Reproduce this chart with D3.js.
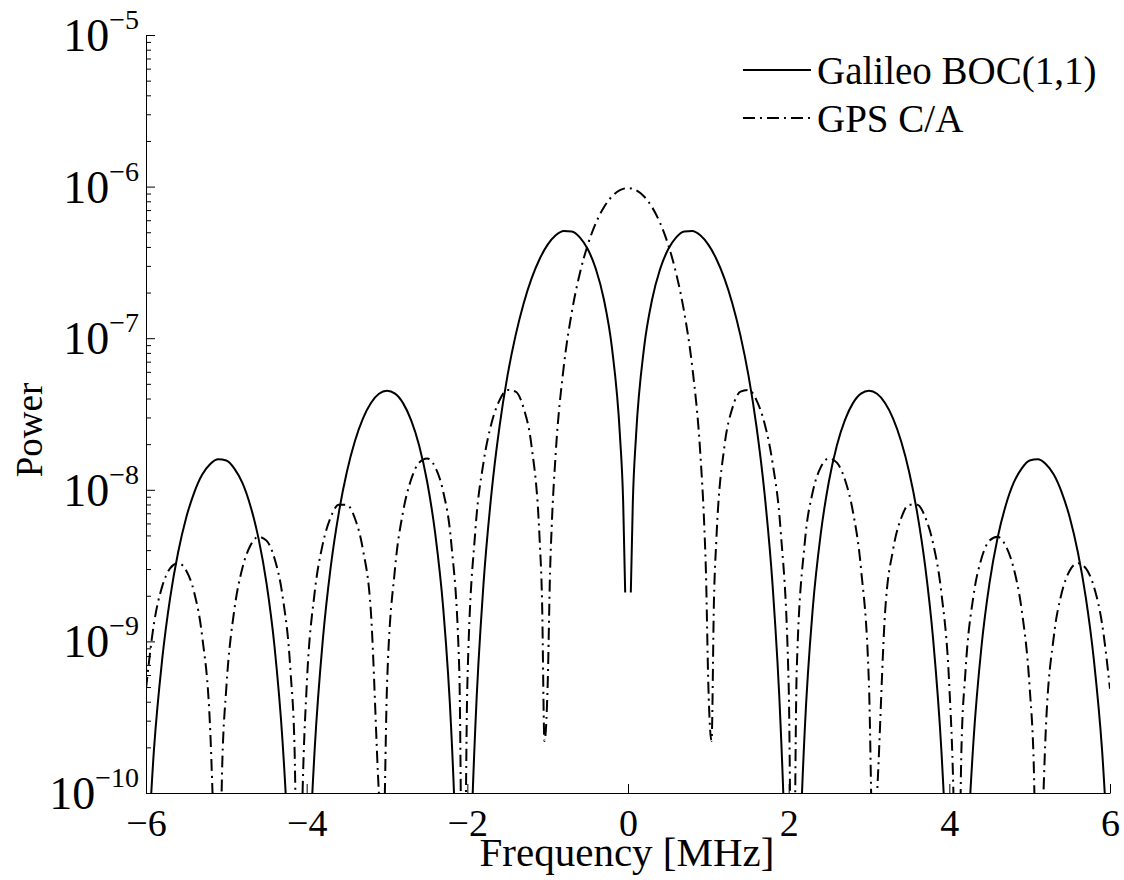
<!DOCTYPE html>
<html><head><meta charset="utf-8">
<script src="https://cdn.jsdelivr.net/npm/d3@7"></script>
<style>
body{margin:0;background:#fff;}
text{font-family:"Liberation Serif","Times New Roman",serif;fill:#000;}
</style>
</head><body>
<svg id="chart" width="1124" height="880"></svg>
<script>
// ---- data ----
const xTicks = [-6, -4, -2, 0, 2, 4, 6];
const yTickExponents = [-10, -9, -8, -7, -6, -5];
const seriesNames = ["Galileo BOC(1,1)", "GPS C/A"];
const xLabel = "Frequency [MHz]";
const yLabel = "Power";

// Galileo BOC(1,1) (0 = gap in the line at f = 0)
const galFreq = [-6.0,-5.9,-5.8,-5.7,-5.6,-5.5,-5.4,-5.3,-5.2,-5.1,-5.0,-4.9,-4.8,-4.7,-4.6,-4.5,-4.4,-4.3,-4.25,-4.2,-4.0,-3.95,-3.9,-3.8,-3.7,-3.6,-3.5,-3.4,-3.3,-3.2,-3.1,-3.0,-2.9,-2.8,-2.7,-2.6,-2.5,-2.4,-2.3,-2.2,-2.15,-2.1,-2.0,-1.95,-1.9,-1.8,-1.7,-1.6,-1.5,-1.4,-1.3,-1.2,-1.1,-1.0,-0.9,-0.8,-0.7,-0.6,-0.5,-0.4,-0.3,-0.2,-0.1,-0.06,-0.035,
  0,
  0.035,0.06,0.1,0.2,0.3,0.4,0.5,0.6,0.7,0.8,0.9,1.0,1.1,1.2,1.3,1.4,1.5,1.6,1.7,1.8,1.9,1.95,2.0,2.1,2.15,2.2,2.3,2.4,2.5,2.6,2.7,2.8,2.9,3.0,3.1,3.2,3.3,3.4,3.5,3.6,3.7,3.8,3.9,3.95,4.0,4.2,4.25,4.3,4.4,4.5,4.6,4.7,4.8,4.9,5.0,5.1,5.2,5.3,5.4,5.5,5.6,5.7,5.8,5.9,6.0];
const galPower = [2.3e-11,1.96e-10,7.49e-10,1.93e-9,3.87e-9,6.54e-9,9.59e-9,1.26e-8,1.48e-8,1.59e-8,1.56e-8,1.38e-8,1.11e-8,7.83e-9,4.80e-9,2.42e-9,9.22e-10,2.18e-10,7.6e-11,1.7e-11,1.0e-11,5.8e-11,1.95e-10,1.01e-9,3.11e-9,7.05e-9,1.31e-8,2.09e-8,2.95e-8,3.74e-8,4.30e-8,4.50e-8,4.31e-8,3.73e-8,2.88e-8,1.96e-8,1.13e-8,5.15e-9,1.65e-9,2.58e-10,5.7e-11,4.4e-12,2.6e-12,5.1e-11,2.76e-10,2.34e-9,9.43e-9,2.60e-8,5.66e-8,1.04e-7,1.69e-7,2.48e-7,3.33e-7,4.14e-7,4.77e-7,5.10e-7,5.06e-7,4.63e-7,3.86e-7,2.86e-7,1.80e-7,8.66e-8,2.27e-8,8.25e-9,2.1e-9,
  0,
  2.1e-9,8.25e-9,2.27e-8,8.66e-8,1.80e-7,2.86e-7,3.86e-7,4.63e-7,5.06e-7,5.10e-7,4.77e-7,4.14e-7,3.33e-7,2.48e-7,1.69e-7,1.04e-7,5.66e-8,2.60e-8,9.43e-9,2.34e-9,2.76e-10,5.1e-11,2.6e-12,4.4e-12,5.7e-11,2.58e-10,1.65e-9,5.15e-9,1.13e-8,1.96e-8,2.88e-8,3.73e-8,4.31e-8,4.50e-8,4.30e-8,3.74e-8,2.95e-8,2.09e-8,1.31e-8,7.05e-9,3.11e-9,1.01e-9,1.95e-10,5.8e-11,1.0e-11,1.7e-11,7.6e-11,2.18e-10,9.22e-10,2.42e-9,4.80e-9,7.83e-9,1.11e-8,1.38e-8,1.56e-8,1.59e-8,1.48e-8,1.26e-8,9.59e-9,6.54e-9,3.87e-9,1.93e-9,7.49e-10,1.96e-10,2.3e-11];

// GPS C/A
const gpsFreq = [-6.0,-5.9,-5.8,-5.7,-5.6,-5.5,-5.4,-5.3,-5.2,-5.15,-5.1,-5.05,-5.0,-4.9,-4.8,-4.7,-4.6,-4.5,-4.4,-4.3,-4.2,-4.15,-4.1,-4.05,-4.0,-3.9,-3.8,-3.7,-3.6,-3.5,-3.4,-3.3,-3.2,-3.1,-3.05,-3.0,-2.9,-2.8,-2.7,-2.6,-2.5,-2.4,-2.3,-2.2,-2.1,-2.05,-2.0,-1.9,-1.8,-1.7,-1.6,-1.5,-1.4,-1.3,-1.2,-1.1,-1.07,-1.04,-1.0,-0.97,-0.95,-0.9,-0.8,-0.7,-0.6,-0.5,-0.4,-0.3,-0.2,-0.1,
  0,
  0.1,0.2,0.3,0.4,0.5,0.6,0.7,0.8,0.9,0.95,0.97,1.0,1.04,1.07,1.1,1.2,1.3,1.4,1.5,1.6,1.7,1.8,1.9,2.0,2.05,2.1,2.2,2.3,2.4,2.5,2.6,2.7,2.8,2.9,3.0,3.05,3.1,3.2,3.3,3.4,3.5,3.6,3.7,3.8,3.9,4.0,4.05,4.1,4.15,4.2,4.3,4.4,4.5,4.6,4.7,4.8,4.9,5.0,5.05,5.1,5.15,5.2,5.3,5.4,5.5,5.6,5.7,5.8,5.9,6.0];
const gpsPower = [4.87e-10,1.32e-9,2.29e-9,3.03e-9,3.28e-9,2.94e-9,2.10e-9,1.07e-9,2.55e-10,4.5e-11,8.5e-12,1.60e-10,4.95e-10,1.62e-9,3.05e-9,4.29e-9,4.90e-9,4.62e-9,3.52e-9,1.99e-9,6.23e-10,1.89e-10,3.7e-12,1.05e-10,5.04e-10,2.11e-9,4.38e-9,6.60e-9,7.97e-9,7.96e-9,6.49e-9,4.04e-9,1.55e-9,9.8e-11,3.8e-11,5.09e-10,3.03e-9,7.16e-9,1.17e-8,1.51e-8,1.61e-8,1.41e-8,9.70e-9,4.45e-9,6.40e-10,3.7e-12,5.15e-10,5.40e-9,1.50e-8,2.74e-8,3.89e-8,4.56e-8,4.44e-8,3.47e-8,1.93e-8,4.71e-9,1.87e-9,2.2e-10,5.17e-10,2.90e-9,5.69e-9,1.74e-8,6.46e-8,1.48e-7,2.67e-7,4.14e-7,5.75e-7,7.31e-7,8.61e-7,9.48e-7,
  9.78e-7,
  9.48e-7,8.61e-7,7.31e-7,5.75e-7,4.14e-7,2.67e-7,1.48e-7,6.46e-8,1.74e-8,5.69e-9,2.90e-9,5.17e-10,2.2e-10,1.87e-9,4.71e-9,1.93e-8,3.47e-8,4.44e-8,4.56e-8,3.89e-8,2.74e-8,1.50e-8,5.40e-9,5.15e-10,3.7e-12,6.40e-10,4.45e-9,9.70e-9,1.41e-8,1.61e-8,1.51e-8,1.17e-8,7.16e-9,3.03e-9,5.09e-10,3.8e-11,9.8e-11,1.55e-9,4.04e-9,6.49e-9,7.96e-9,7.97e-9,6.60e-9,4.38e-9,2.11e-9,5.04e-10,1.05e-10,3.7e-12,1.89e-10,6.23e-10,1.99e-9,3.52e-9,4.62e-9,4.90e-9,4.29e-9,3.05e-9,1.62e-9,4.95e-10,1.60e-10,8.5e-12,4.5e-11,2.55e-10,1.07e-9,2.10e-9,2.94e-9,3.28e-9,3.03e-9,2.29e-9,1.32e-9,4.87e-10];

// ---- layout ----
const W = 1124, H = 880;
const L = 146, R = 1110, T = 35, B = 793;
const FONT = '"Liberation Serif","Times New Roman",serif';
const svg = d3.select("#chart").attr("font-family", FONT);
svg.append("rect").attr("width", W).attr("height", H).attr("fill", "#fff");

const x = d3.scaleLinear().domain([-6, 6]).range([L, R]);
const y = d3.scaleLog().domain([1e-10, 1e-5]).range([B, T]);

svg.append("defs").append("clipPath").attr("id", "plotclip")
  .append("rect").attr("x", L).attr("y", T).attr("width", R - L).attr("height", B - T);

// curves
const galData = galFreq.map((f, i) => ({f, p: galPower[i]}));
const gpsData = gpsFreq.map((f, i) => ({f, p: gpsPower[i]}));
const line = d3.line()
  .defined(d => d.p > 0)
  .x(d => x(d.f))
  .y(d => y(d.p))
  .curve(d3.curveMonotoneX);

const plot = svg.append("g").attr("clip-path", "url(#plotclip)");
plot.append("path").datum(gpsData).attr("d", line)
  .attr("fill", "none").attr("stroke", "#000").attr("stroke-width", 2)
  .attr("stroke-dasharray", "12,5,2,5");
plot.append("path").datum(galData).attr("d", line)
  .attr("fill", "none").attr("stroke", "#000").attr("stroke-width", 2);

// y axis: major and minor ticks, inward
const majorY = yTickExponents.map(e => Math.pow(10, e));
const minorY = [];
yTickExponents.slice(0, -1).forEach(e => { for (let m = 2; m <= 9; m++) minorY.push(m * Math.pow(10, e)); });

svg.append("g").attr("transform", `translate(${L},0)`)
  .call(d3.axisLeft(y).tickValues(minorY).tickSizeInner(-5).tickSizeOuter(0).tickFormat(""))
  .call(g => g.select(".domain").remove())
  .selectAll("line").attr("stroke", "#000");
const yAx = svg.append("g").attr("transform", `translate(${L},0)`)
  .call(d3.axisLeft(y).tickValues(majorY).tickSizeInner(-9).tickSizeOuter(0).tickFormat(""));
yAx.selectAll("line,path").attr("stroke", "#000");

// y tick labels 10^e
yTickExponents.forEach(e => {
  const t = svg.append("text")
    .attr("x", 139).attr("y", y(Math.pow(10, e)) + 16)
    .attr("text-anchor", "end")
    .style("font-size", "46px");
  t.append("tspan").text("10");
  t.append("tspan").attr("dy", -22).style("font-size", "28px").text("\u2212" + Math.abs(e));
});

// x axis
const xAx = svg.append("g").attr("transform", `translate(0,${B})`)
  .call(d3.axisBottom(x).tickValues(xTicks).tickSizeInner(-9).tickSizeOuter(0).tickPadding(16)
    .tickFormat(d => d < 0 ? "\u2212" + Math.abs(d) : String(d)));
xAx.selectAll("line,path").attr("stroke", "#000");
xAx.selectAll("text").style("font-size", "38px").style("font-family", FONT);

// axis labels
svg.append("text").attr("x", (L + R) / 2 - 1).attr("y", 866).attr("text-anchor", "middle")
  .style("font-size", "41px").text(xLabel);
svg.append("text").attr("transform", `translate(42,430) rotate(-90)`)
  .attr("text-anchor", "middle").style("font-size", "37px").text(yLabel);

// legend
const legend = [
  {name: seriesNames[0], dash: null, yy: 70},
  {name: seriesNames[1], dash: "12,5,2,5", yy: 118}
];
legend.forEach(d => {
  svg.append("line").attr("x1", 743).attr("x2", 811).attr("y1", d.yy).attr("y2", d.yy)
    .attr("stroke", "#000").attr("stroke-width", 2).attr("stroke-dasharray", d.dash);
  svg.append("text").attr("x", 817).attr("y", d.yy + 14).style("font-size", "39px").text(d.name);
});
</script>
</body></html>
